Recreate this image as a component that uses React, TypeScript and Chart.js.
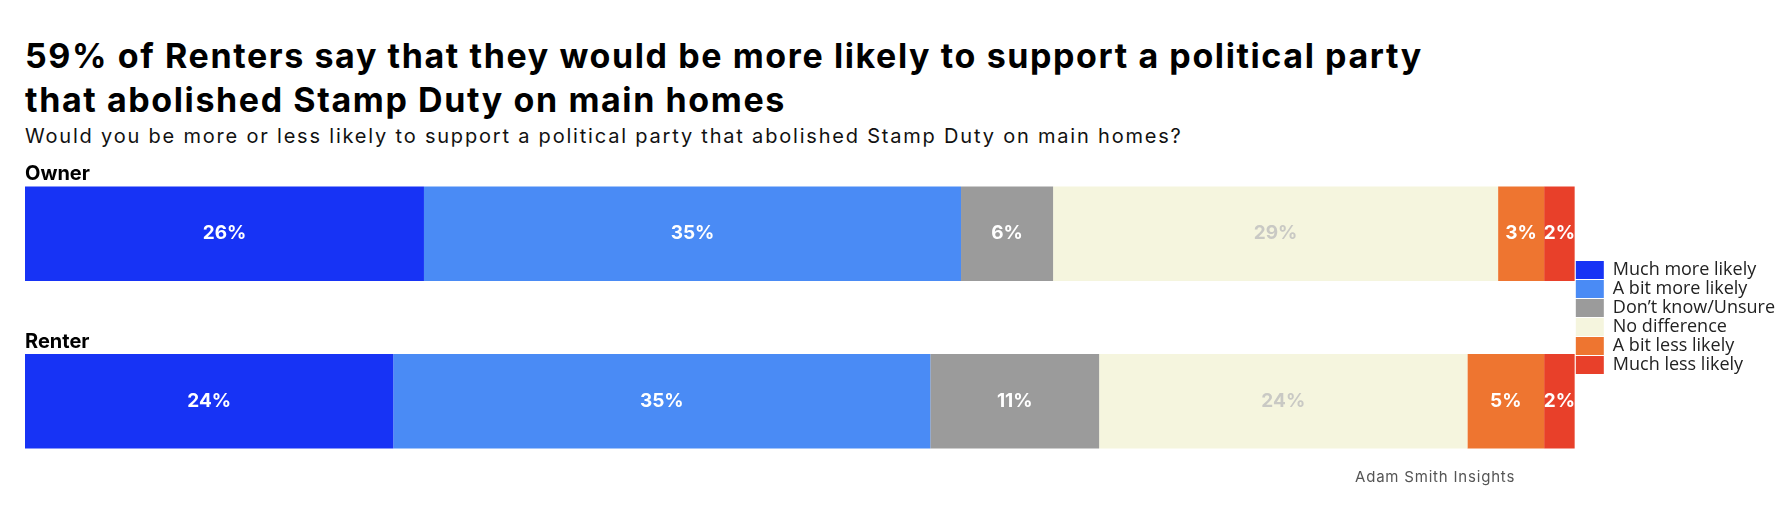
import React, { useEffect, useRef } from "react";
import { Chart, registerables } from "chart.js";
Chart.register(...registerables);

const categories = ["Owner", "Renter"];
const seriesNames = ["Much more likely", "A bit more likely", "Don’t know/Unsure", "No difference", "A bit less likely", "Much less likely"];
const muchMore = [26, 24];
const bitMore = [35, 35];
const dontKnow = [6, 11];
const noDiff = [29, 24];
const bitLess = [3, 5];
const muchLess = [2, 2];
const colors = ["#1733F5", "#4A8BF5", "#9B9B9B", "#F5F5DE", "#EE7530", "#E8402A"];
const FONT = "Inter, 'Open Sans', sans-serif";

export default function App() {
  const ref = useRef<HTMLCanvasElement>(null);
  useEffect(() => {
    document.body.style.margin = "0";
    const values = [muchMore, bitMore, dontKnow, noDiff, bitLess, muchLess];
    const labelsPlugin = {
      id: "lbls",
      afterDatasetsDraw(chart: any) {
        const ctx = chart.ctx;
        ctx.save();
        ctx.font = `bold 19px ${FONT}`;
        ctx.textAlign = "center";
        ctx.textBaseline = "middle";
        chart.data.datasets.forEach((ds: any, i: number) => {
          const meta = chart.getDatasetMeta(i);
          meta.data.forEach((bar: any, j: number) => {
            ctx.fillStyle = i === 3 ? "#C9C9C4" : "#FFFFFF";
            const cx = (bar.x + bar.base) / 2;
            ctx.fillText(ds.data[j] + "%", cx, bar.y);
          });
        });
        const m0 = chart.getDatasetMeta(0);
        ctx.fillStyle = "#000";
        ctx.textAlign = "left";
        ctx.textBaseline = "bottom";
        ctx.font = `bold 20px ${FONT}`;
        m0.data.forEach((bar: any, j: number) => {
          ctx.fillText(categories[j], chart.chartArea.left, bar.y - bar.height / 2 - 2);
        });
        ctx.restore();
      },
    };
    const chart = new Chart(ref.current!, {
      type: "bar",
      data: {
        labels: categories,
        datasets: values.map((v, i) => ({
          label: seriesNames[i],
          data: v,
          backgroundColor: colors[i],
          borderWidth: 0,
          categoryPercentage: 1,
          barPercentage: 0.565,
        })),
      },
      options: {
        indexAxis: "y",
        animation: false,
        responsive: false,
        devicePixelRatio: 1,
        layout: { padding: 0 },
        scales: {
          x: { stacked: true, min: 0, max: 101, display: false },
          y: { stacked: true, display: false },
        },
        plugins: {
          tooltip: { enabled: false },
          legend: {
            position: "right",
            align: "center",
            labels: {
              boxWidth: 28,
              boxHeight: 18,
              padding: 1,
              color: "#222",
              font: { size: 18, family: "'Open Sans', sans-serif" },
            },
          },
        },
      },
      plugins: [labelsPlugin],
    });
    return () => chart.destroy();
  }, []);
  return (
    <div style={{ position: "relative", width: 1780, height: 510, fontFamily: FONT, background: "#fff" }}>
      <div style={{ position: "absolute", left: 25, top: 34, fontSize: 34, fontWeight: 700, lineHeight: "44px", color: "#000", letterSpacing: 1.6 }}>
        59% of Renters say that they would be more likely to support a political party<br />that abolished Stamp Duty on main homes
      </div>
      <div style={{ position: "absolute", left: 25, top: 124, fontSize: 20, color: "#111", letterSpacing: 1.8 }}>
        Would you be more or less likely to support a political party that abolished Stamp Duty on main homes?
      </div>
      <canvas ref={ref} width={1760} height={335} style={{ position: "absolute", left: 25, top: 150 }} />
      <div style={{ position: "absolute", left: 1355, top: 467, fontSize: 15, color: "#555", letterSpacing: 0.8 }}>Adam Smith Insights</div>
    </div>
  );
}
